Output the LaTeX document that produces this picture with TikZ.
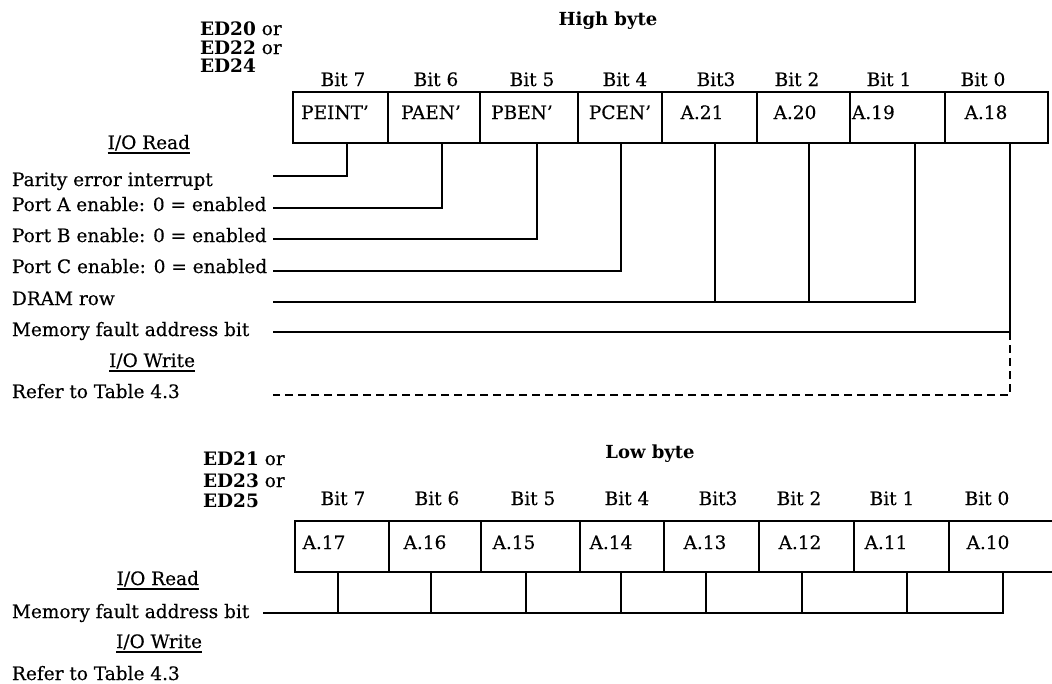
\documentclass[tikz,border=0pt]{standalone}
\usepackage{fontspec}
\setmainfont{DejaVu Serif}[UprightFeatures={FakeBold=0.35}]
\begin{document}
\begin{tikzpicture}[x=1pt,y=-1pt,
  every node/.style={inner sep=0pt, outer sep=0pt},
  txt/.style={font=\fontsize{18.5}{22}\selectfont},
  lbl/.style={txt, anchor=base west},
  rlbl/.style={txt, anchor=base east},
  ctr/.style={txt, anchor=base},
  cell/.style={draw, line width=2.2pt, minimum height=51pt, anchor=north west},
  wire/.style={line width=2.2pt},
  dwire/.style={line width=2.2pt, dash pattern=on 8pt off 5pt},
  uline/.style={line width=1.6pt},
]
\useasboundingbox (0,0) rectangle (1052,683);

% ---------------- High byte ----------------
\node[ctr, font=\fontsize{18}{22}\selectfont\bfseries] (hbt) at (608,25) {High byte};
\node[lbl] (ed20) at (200,35) {\textbf{ED20} or};
\node[lbl] (ed22) at (200,54) {\textbf{ED22} or};
\node[lbl] (ed24) at (200,72) {\textbf{ED24}};

\node[ctr] (hb7) at (343,86) {Bit 7};
\node[ctr] (hb6) at (436,86) {Bit 6};
\node[ctr] (hb5) at (532,86) {Bit 5};
\node[ctr] (hb4) at (625,86) {Bit 4};
\node[ctr] (hb3) at (716,86) {Bit3};
\node[ctr] (hb2) at (797,86) {Bit 2};
\node[ctr] (hb1) at (889,86) {Bit 1};
\node[ctr] (hb0) at (983,86) {Bit 0};

\node[cell, minimum width=95pt]  (h7) at (293,92) {};
\node[cell, minimum width=92pt]  (h6) at (388,92) {};
\node[cell, minimum width=98pt]  (h5) at (480,92) {};
\node[cell, minimum width=84pt]  (h4) at (578,92) {};
\node[cell, minimum width=95pt]  (h3) at (662,92) {};
\node[cell, minimum width=93pt]  (h2) at (757,92) {};
\node[cell, minimum width=95pt]  (h1) at (850,92) {};
\node[cell, minimum width=103pt] (h0) at (945,92) {};

\node[ctr] (hv7) at (335,119) {PEINT'};
\node[ctr] (hv6) at (431,119) {PAEN'};
\node[ctr] (hv5) at (522,119) {PBEN'};
\node[ctr] (hv4) at (620,119) {PCEN'};
\node[ctr] (hv3) at (702,119) {A.21};
\node[ctr] (hv2) at (795,119) {A.20};
\node[lbl] (hv1) at (852,119) {A.19};
\node[ctr] (hv0) at (986,119) {A.18};

\node[rlbl] (hrd) at (190,149) {I/O Read};
\draw[uline] ([yshift=-4pt]hrd.base west) -- ([yshift=-4pt]hrd.base east);
\node[lbl] (lpar) at (12,186) {Parity error interrupt};
\node[lbl] (lpa) at (12,211) {Port A enable: 0 = enabled};
\node[lbl] (lpb) at (12,242) {Port B enable: 0 = enabled};
\node[lbl] (lpc) at (12,273) {Port C enable: 0 = enabled};
\node[lbl] (ldr) at (12,305) {DRAM row};
\node[lbl] (lmf) at (12,336) {Memory fault address bit};
\node[rlbl] (hwr) at (195,367) {I/O Write};
\draw[uline] ([yshift=-4pt]hwr.base west) -- ([yshift=-4pt]hwr.base east);
\node[lbl] (lrf) at (12,398) {Refer to Table 4.3};

\coordinate (t7) at (347,143);
\coordinate (t6) at (442,143);
\coordinate (t5) at (537,143);
\coordinate (t4) at (621,143);
\coordinate (t3) at (715,143);
\coordinate (t2) at (809,143);
\coordinate (t1) at (915,143);
\coordinate (t0) at (1010,143);
\coordinate (e7) at (273,176);
\coordinate (e6) at (273,208);
\coordinate (e5) at (273,239);
\coordinate (e4) at (273,271);
\coordinate (edr) at (273,302);
\coordinate (emf) at (273,332);
\coordinate (erf) at (273,395);

\draw[wire] (t7) |- (e7);
\draw[wire] (t6) |- (e6);
\draw[wire] (t5) |- (e5);
\draw[wire] (t4) |- (e4);
\draw[wire] (t1) |- (edr);
\draw[wire] (t3) -- (t3 |- edr);
\draw[wire] (t2) -- (t2 |- edr);
\draw[wire] (t0) |- (emf);
\draw[dwire] (t0 |- emf) |- (erf);

% ---------------- Low byte ----------------
\node[ctr, font=\fontsize{18}{22}\selectfont\bfseries] (lbt) at (650,458) {Low byte};
\node[lbl] (ed21) at (203,465) {\textbf{ED21} or};
\node[lbl] (ed23) at (203,487) {\textbf{ED23} or};
\node[lbl] (ed25) at (203,507) {\textbf{ED25}};

\node[ctr] (lb7) at (343,505) {Bit 7};
\node[ctr] (lb6) at (437,505) {Bit 6};
\node[ctr] (lb5) at (533,505) {Bit 5};
\node[ctr] (lb4) at (627,505) {Bit 4};
\node[ctr] (lb3) at (718,505) {Bit3};
\node[ctr] (lb2) at (799,505) {Bit 2};
\node[ctr] (lb1) at (892,505) {Bit 1};
\node[ctr] (lb0) at (987,505) {Bit 0};

\node[cell, minimum width=94pt] (l7) at (295,521) {};
\node[cell, minimum width=92pt] (l6) at (389,521) {};
\node[cell, minimum width=99pt] (l5) at (481,521) {};
\node[cell, minimum width=84pt] (l4) at (580,521) {};
\node[cell, minimum width=95pt] (l3) at (664,521) {};
\node[cell, minimum width=95pt] (l2) at (759,521) {};
\node[cell, minimum width=95pt] (l1) at (854,521) {};
\coordinate (l0a) at (1052,521);
\coordinate (l0b) at (1052,572);
\draw[line width=2.2pt] (l0a) -- (l1.north east) (l1.south east) -- (l0b);

\node[ctr] (lv7) at (324,549) {A.17};
\node[ctr] (lv6) at (425,549) {A.16};
\node[ctr] (lv5) at (514,549) {A.15};
\node[ctr] (lv4) at (611,549) {A.14};
\node[ctr] (lv3) at (705,549) {A.13};
\node[ctr] (lv2) at (800,549) {A.12};
\node[ctr] (lv1) at (886,549) {A.11};
\node[ctr] (lv0) at (988,549) {A.10};

\node[rlbl] (lrd) at (199,585) {I/O Read};
\draw[uline] ([yshift=-4pt]lrd.base west) -- ([yshift=-4pt]lrd.base east);
\node[lbl] (lmf2) at (12,618) {Memory fault address bit};
\node[rlbl] (lwr) at (202,648) {I/O Write};
\draw[uline] ([yshift=-4pt]lwr.base west) -- ([yshift=-4pt]lwr.base east);
\node[lbl] (lrf2) at (12,680) {Refer to Table 4.3};

\coordinate (u7) at (338,572);
\coordinate (u6) at (431,572);
\coordinate (u5) at (526,572);
\coordinate (u4) at (621,572);
\coordinate (u3) at (706,572);
\coordinate (u2) at (802,572);
\coordinate (u1) at (907,572);
\coordinate (u0) at (1003,572);
\coordinate (el) at (263,613);

\draw[wire] (u0) |- (el);
\foreach \u in {u7,u6,u5,u4,u3,u2,u1}{
  \draw[wire] (\u) -- (\u |- el);
}
\end{tikzpicture}
\end{document}
